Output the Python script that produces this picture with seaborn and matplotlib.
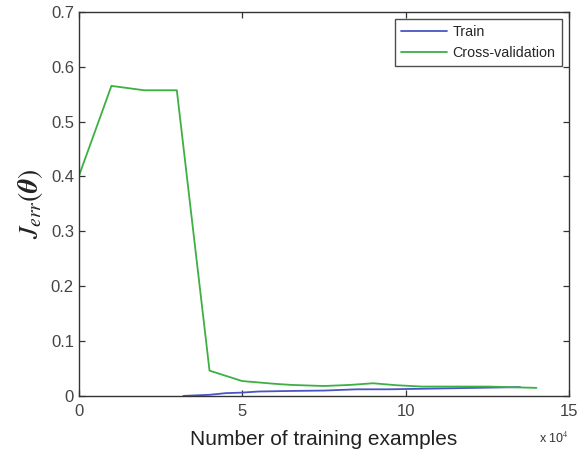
import matplotlib
matplotlib.use("Agg")
import matplotlib.pyplot as plt
import seaborn as sns
import pandas as pd
import numpy as np

# Learning curve values (x in units of 10^4 training examples)
train_x = [3.2, 4.0, 4.5, 5.0, 5.5, 6.5, 7.5, 8.5, 9.5, 10.5, 11.5, 12.5, 13.5]
train_err = [0.0, 0.002, 0.005, 0.006, 0.008, 0.009, 0.0097, 0.012, 0.012, 0.013, 0.014, 0.015, 0.016]
cv_x = [0, 1, 2, 3, 4, 5, 6, 6.5, 7.5, 8.3, 9, 9.7, 10.5, 12.5, 14]
cv_err = [0.40, 0.565, 0.557, 0.557, 0.046, 0.027, 0.022, 0.020, 0.018, 0.020, 0.023, 0.0195, 0.017, 0.017, 0.0146]

series_names = ["Train", "Cross-validation"]
series_colors = ["#4a55c4", "#3cb043"]

df = pd.concat([
    pd.DataFrame({"n": np.array(train_x) * 1e4, "err": train_err, "set": series_names[0]}),
    pd.DataFrame({"n": np.array(cv_x) * 1e4, "err": cv_err, "set": series_names[1]}),
])

sns.set_style("white")
plt.rcParams["font.family"] = ["Liberation Sans", "DejaVu Sans"]
plt.rcParams["mathtext.fontset"] = "stix"

fig = plt.figure(figsize=(5.79, 4.54), dpi=100)
ax = fig.add_axes([0.136, 0.128, 0.847, 0.846])

sns.lineplot(data=df, x="n", y="err", hue="set", palette=series_colors,
             hue_order=series_names, linewidth=1.3, ax=ax, sort=False,
             estimator=None)

ax.set_xlim(0, 15e4)
ax.set_ylim(0, 0.7)
ax.set_xticks([0, 5e4, 10e4, 15e4])
ax.set_xticklabels(["0", "5", "10", "15"])
ax.set_yticks(np.arange(0, 0.71, 0.1))
ax.set_yticklabels(["0", "0.1", "0.2", "0.3", "0.4", "0.5", "0.6", "0.7"])
ax.tick_params(direction="in", length=4, width=0.9, colors="#333333",
               labelsize=12, labelcolor="#444444", top=True, right=True,
               bottom=True, left=True)
ax.tick_params(axis="x", pad=6)
for s in ax.spines.values():
    s.set_color("#333333")
    s.set_linewidth(1.0)

ax.set_xlabel("Number of training examples", fontsize=15, color="#222222", labelpad=8)
ax.set_ylabel(r"$J_{err}(\boldsymbol{\theta})$", fontsize=20, color="#222222", labelpad=4)
ax.text(1.0, -0.11, r"x 10$^4$", transform=ax.transAxes, fontsize=9,
        ha="right", va="center", color="#333333")

leg = ax.legend(loc="upper right", fontsize=10.3, frameon=True, fancybox=False,
                borderpad=0.45, handlelength=3.2, handletextpad=0.4,
                borderaxespad=0.5, labelspacing=0.45)
leg.get_frame().set_edgecolor("#222222")
leg.get_frame().set_linewidth(1.0)

fig.savefig("out.png", dpi=100)
